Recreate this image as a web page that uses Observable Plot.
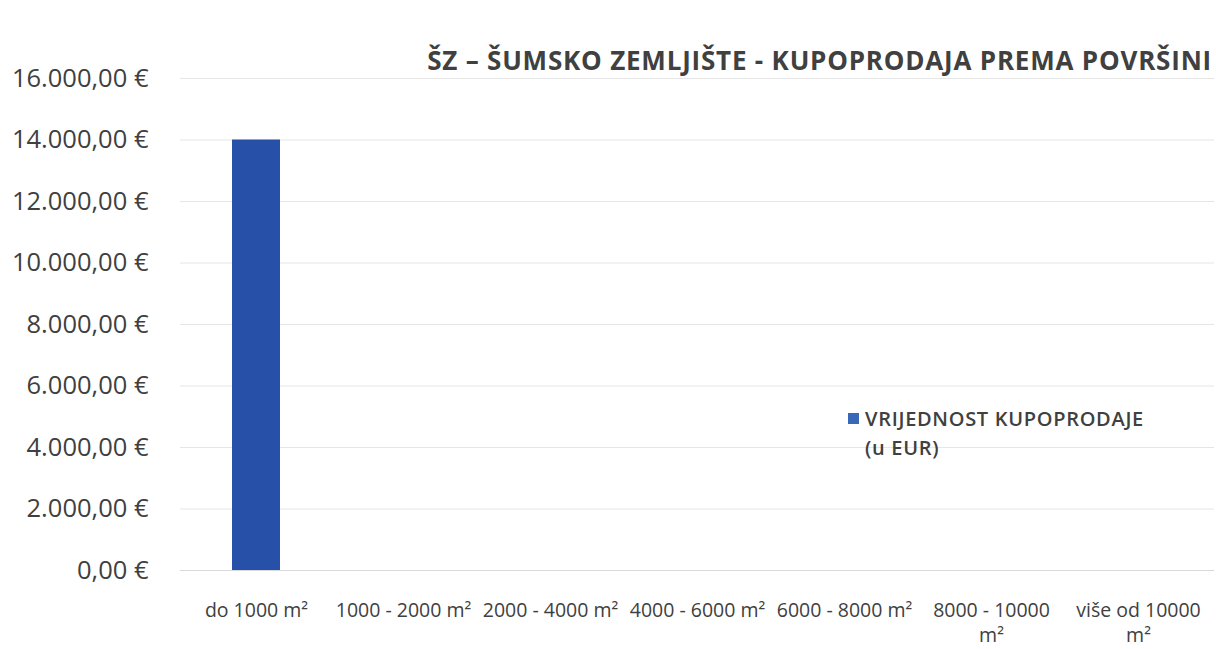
<!DOCTYPE html>
<html>
<head>
<meta charset="utf-8">
<script src="https://cdn.jsdelivr.net/npm/d3@7"></script>
<script src="https://cdn.jsdelivr.net/npm/@observablehq/plot@0.6"></script>
<style>
  html, body { margin: 0; padding: 0; background: #fff; }
  #wrap { position: relative; width: 1216px; height: 649px; font-family: "Open Sans", sans-serif; }
  #title { position: absolute; right: 4px; top: 42px; font-size: 26px; font-weight: 700; color: #404040; white-space: nowrap; letter-spacing: 0.8px; }
  #legend { position: absolute; left: 848px; top: 404px; font-size: 20px; font-weight: 600; color: #404040; line-height: 29px; letter-spacing: 0.7px; }
  #legend .sw { display: inline-block; width: 11px; height: 11px; background: #3a68b8; margin-right: 6px; vertical-align: 2px; }
  #legend .l2 { padding-left: 17px; }
  #chart { position: absolute; left: 0; top: 0; }
</style>
</head>
<body>
<div id="wrap">
  <div id="chart"></div>
  <div id="title">ŠZ – ŠUMSKO ZEMLJIŠTE - KUPOPRODAJA PREMA POVRŠINI</div>
  <div id="legend"><span class="sw"></span>VRIJEDNOST KUPOPRODAJE<br><span class="l2">(u EUR)</span></div>
</div>
<script>
const categories = ["do 1000 m²", "1000 - 2000 m²", "2000 - 4000 m²", "4000 - 6000 m²", "6000 - 8000 m²", "8000 - 10000 m²", "više od 10000 m²"];
const tickLabels = ["do 1000 m²", "1000 - 2000 m²", "2000 - 4000 m²", "4000 - 6000 m²", "6000 - 8000 m²", "8000 - 10000\nm²", "više od 10000\nm²"];
const values = [14000, 0, 0, 0, 0, 0, 0];
const yTicks = [0, 2000, 4000, 6000, 8000, 10000, 12000, 14000, 16000];

const data = categories.map((c, i) => ({category: c, value: values[i]}));
const labelOf = new Map(categories.map((c, i) => [c, tickLabels[i]]));
const loc = d3.formatLocale({decimal: ",", thousands: ".", grouping: [3], currency: ["", " €"]});
const fmt = loc.format(",.2f");

const chart = Plot.plot({
  width: 1216,
  height: 649,
  marginLeft: 180,
  marginRight: 2,
  marginTop: 78,
  marginBottom: 79,
  style: {fontFamily: "Open Sans, sans-serif", background: "#fff", color: "#404040"},
  x: {domain: categories, paddingInner: 0.675, paddingOuter: 0.3375, label: null},
  y: {domain: [0, 16000], label: null},
  marks: [
    Plot.gridY(yTicks.filter(d => d > 0), {stroke: "#e6e6e6", strokeOpacity: 1}),
    Plot.ruleY([0], {stroke: "#d9d9d9"}),
    Plot.barY(data, {x: "category", y: "value", fill: "#2751a8"}),
    Plot.axisY({ticks: yTicks, tickSize: 0, tickPadding: 32, tickFormat: d => fmt(d) + " €", fontSize: 25.5, fill: "#404040", label: null}),
    Plot.axisX({tickSize: 0, tickPadding: 28, tickFormat: d => labelOf.get(d), fontSize: 19.5, fill: "#404040", label: null, lineHeight: 1.3})
  ]
});
document.getElementById("chart").appendChild(chart);
</script>
</body>
</html>
